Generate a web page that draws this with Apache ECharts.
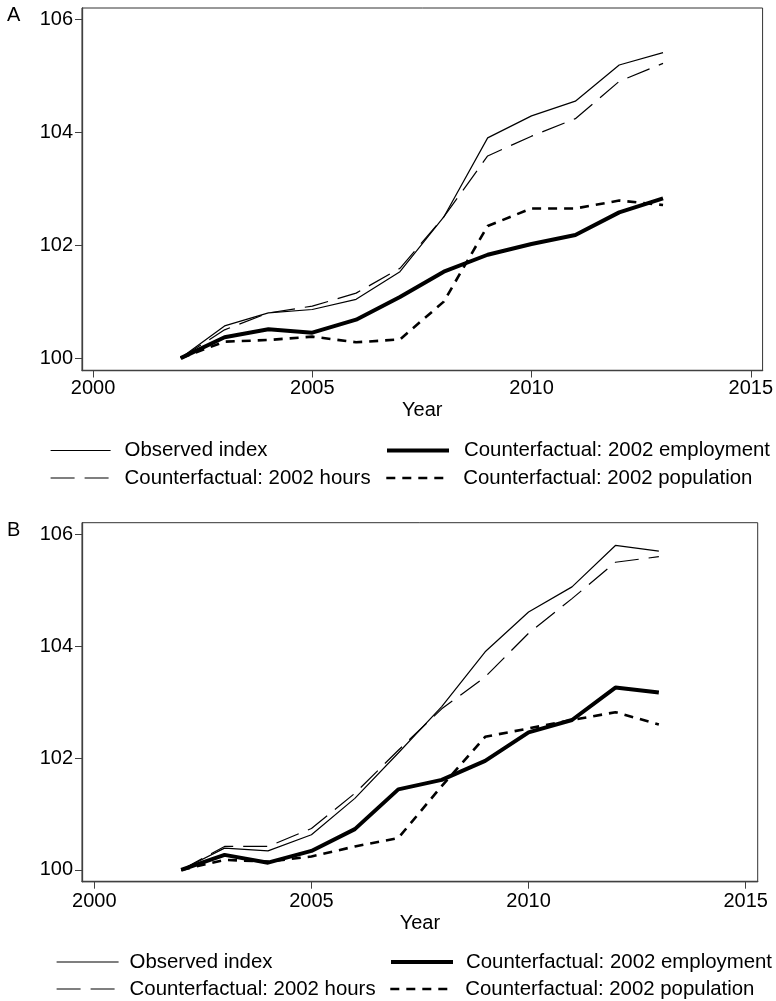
<!DOCTYPE html>
<html>
<head>
<meta charset="utf-8">
<script src="https://cdn.jsdelivr.net/npm/echarts@6/dist/echarts.min.js"></script>
<style>
html,body{margin:0;padding:0;background:#fff;}
#chart{width:776px;height:1001px;}
</style>
</head>
<body>
<div id="chart"></div>
<script>
// ---- data ----
const years = [2002, 2003, 2004, 2005, 2006, 2007, 2008, 2009, 2010, 2011, 2012, 2013];
const xTicks = [2000, 2005, 2010, 2015];
const yTicks = [100, 102, 104, 106];
const seriesNames = ['Observed index', 'Counterfactual: 2002 hours', 'Counterfactual: 2002 employment', 'Counterfactual: 2002 population'];
const panelLabels = ['A', 'B'];

// Panel A
const observedA   = [100, 100.57, 100.80, 100.86, 101.04, 101.53, 102.50, 103.90, 104.29, 104.55, 105.19, 105.41];
const hoursA      = [100, 100.50, 100.80, 100.92, 101.15, 101.59, 102.50, 103.58, 103.93, 104.24, 104.90, 105.22];
const employmentA = [100, 100.37, 100.51, 100.45, 100.68, 101.08, 101.53, 101.83, 102.02, 102.18, 102.58, 102.83];
const populationA = [100, 100.29, 100.32, 100.38, 100.28, 100.33, 101.00, 102.34, 102.65, 102.65, 102.79, 102.71];

// Panel B
const observedB   = [100, 100.39, 100.34, 100.63, 101.28, 102.09, 102.92, 103.90, 104.61, 105.06, 105.80, 105.70];
const hoursB      = [100, 100.42, 100.42, 100.74, 101.37, 102.14, 102.88, 103.45, 104.23, 104.85, 105.50, 105.60];
const employmentB = [100, 100.27, 100.13, 100.34, 100.73, 101.44, 101.61, 101.95, 102.46, 102.68, 103.26, 103.17];
const populationB = [100, 100.18, 100.15, 100.24, 100.42, 100.57, 101.50, 102.38, 102.53, 102.68, 102.82, 102.60];

// ---- styles ----
const FONT = "'Liberation Sans', Arial, Helvetica, sans-serif";
const lineStyles = [
  {width: 1.2, type: 'solid', color: '#000'},
  {width: 1.2, type: [24, 10], color: '#000'},
  {width: 4, type: 'solid', color: '#000'},
  {width: 2.6, type: [9, 7], color: '#000'}
];
const panels = [
  {data: [observedA, hoursA, employmentA, populationA], grid: {left: 82, top: 8, width: 681, height: 362.5},
   xMin: 1999.749, xMax: 2015.27, yMin: 99.78, yMax: 106.2, nameGap: 30, labelMargin: 8},
  {data: [observedB, hoursB, employmentB, populationB], grid: {left: 82, top: 522.7, width: 675.7, height: 359},
   xMin: 1999.717, xMax: 2015.276, yMin: 99.79, yMax: 106.207, nameGap: 32, labelMargin: 10}
];

const grids = [], xAxes = [], yAxes = [], series = [];
panels.forEach((p, i) => {
  grids.push(Object.assign({show: true, borderColor: '#333', borderWidth: 1, backgroundColor: '#fff', containLabel: false}, p.grid));
  xAxes.push({
    type: 'value', gridIndex: i, min: p.xMin, max: p.xMax,
    name: 'Year', nameLocation: 'middle', nameGap: p.nameGap,
    nameTextStyle: {fontSize: 20, fontFamily: FONT, color: '#000'},
    axisLine: {show: true, onZero: false, lineStyle: {color: '#404040', width: 1.3}},
    axisTick: {show: true, inside: false, length: 7, customValues: xTicks, lineStyle: {color: '#404040', width: 1}},
    axisLabel: {show: true, margin: p.labelMargin, customValues: xTicks, fontSize: 20, fontFamily: FONT, color: '#000', formatter: v => String(v)},
    splitLine: {show: false}
  });
  yAxes.push({
    type: 'value', gridIndex: i, min: p.yMin, max: p.yMax,
    axisLine: {show: true, onZero: false, lineStyle: {color: '#404040', width: 1.3}},
    axisTick: {show: true, inside: false, length: 7, customValues: yTicks, lineStyle: {color: '#404040', width: 1}},
    axisLabel: {show: true, margin: 9, customValues: yTicks, fontSize: 20, fontFamily: FONT, color: '#000', formatter: v => String(v)},
    splitLine: {show: false}
  });
  p.data.forEach((vals, k) => {
    series.push({
      type: 'line', name: seriesNames[k], xAxisIndex: i, yAxisIndex: i,
      data: years.map((y, j) => [y, vals[j]]),
      symbol: 'none', showSymbol: false, smooth: false, silent: true, animation: false,
      lineStyle: lineStyles[k], itemStyle: {color: '#000'}, z: 2 + k
    });
  });
});

// legends: one per item so columns line up exactly
const legendSpec = [
  // panel A
  {k: 0, left: 50, top: 440.5, w: 60, pad: 9},
  {k: 1, left: 50, top: 468, w: 60, pad: 9},
  {k: 2, left: 385, top: 440.5, w: 62, pad: 10},
  {k: 3, left: 385, top: 468, w: 62, pad: 10},
  // panel B
  {k: 0, left: 56, top: 952, w: 62, pad: 6},
  {k: 1, left: 56, top: 979, w: 62, pad: 6},
  {k: 2, left: 389, top: 952, w: 62, pad: 8},
  {k: 3, left: 389, top: 979, w: 62, pad: 8}
];
const legends = legendSpec.map(s => ({
  data: [seriesNames[s.k]], left: s.left, top: s.top, padding: 0, orient: 'horizontal',
  itemWidth: s.w, itemHeight: 20, itemGap: 0, selectedMode: false,
  itemStyle: {color: 'rgba(0,0,0,0)', borderWidth: 0, opacity: 0},
  lineStyle: {color: '#000', width: lineStyles[s.k].width, type: lineStyles[s.k].type, opacity: 1},
  textStyle: {fontSize: 20.4, fontFamily: FONT, color: '#000', lineHeight: 20, padding: [0, 0, 0, s.pad]}
}));

const titles = [
  {text: panelLabels[0], left: 7, top: 5, padding: 0, textStyle: {fontSize: 20, fontWeight: 'normal', fontFamily: FONT, color: '#000'}},
  {text: panelLabels[1], left: 7, top: 520, padding: 0, textStyle: {fontSize: 20, fontWeight: 'normal', fontFamily: FONT, color: '#000'}}
];

const chart = echarts.init(document.getElementById('chart'), null, {renderer: 'canvas'});
chart.setOption({
  animation: false,
  backgroundColor: '#fff',
  title: titles,
  legend: legends,
  grid: grids,
  xAxis: xAxes,
  yAxis: yAxes,
  series: series
});
</script>
</body>
</html>
